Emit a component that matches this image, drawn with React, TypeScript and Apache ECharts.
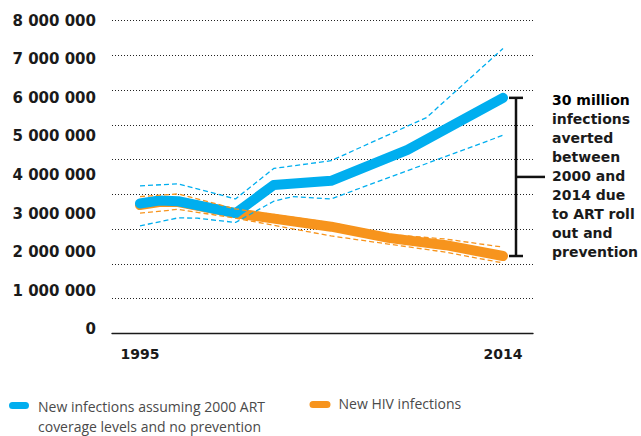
import React, { useEffect, useRef } from 'react';
import * as echarts from 'echarts';

const BLUE = '#00aeef';
const ORANGE = '#f7941d';
const INK = '#1a1a1a';

// New infections assuming 2000 ART coverage levels and no prevention
const noArtYears = [1995, 1996, 1997, 2000, 2002, 2005, 2009, 2014];
const noArtValues = [3260000, 3340000, 3320000, 3010000, 3740000, 3850000, 4650000, 6000000];
const noArtHighYears = [1995, 1997, 2000, 2002, 2005, 2010, 2014];
const noArtHighValues = [3720000, 3770000, 3380000, 4170000, 4370000, 5490000, 7280000];
const noArtLowYears = [1995, 1997, 1998, 2000, 2002, 2003, 2005, 2014];
const noArtLowValues = [2680000, 2890000, 2880000, 2770000, 3320000, 3440000, 3380000, 5030000];

// New HIV infections
const hivYears = [1995, 1996, 1997, 2000, 2005, 2008, 2011, 2014];
const hivValues = [3220000, 3300000, 3300000, 3010000, 2660000, 2370000, 2180000, 1900000];
const hivHighYears = [1995, 1997, 2000, 2005, 2008, 2011, 2014];
const hivHighValues = [3440000, 3510000, 3120000, 2760000, 2460000, 2340000, 2130000];
const hivLowYears = [1995, 1997, 2000, 2005, 2008, 2011, 2014];
const hivLowValues = [3010000, 3110000, 2880000, 2420000, 2210000, 2000000, 1720000];

const legendNoArt = 'New infections assuming 2000 ART\ncoverage levels and no prevention';
const legendHiv = 'New HIV infections';
const annotationTitle = '30 million';
const annotationBody = 'infections\naverted\nbetween\n2000 and\n2014 due\nto ART roll\nout and\nprevention';

const pairs = (xs: number[], ys: number[]) => xs.map((x, i) => [x, ys[i]]);
const fmt = (v: number) => String(v).replace(/\B(?=(\d{3})+(?!\d))/g, ' ');

export default function App() {
  const ref = useRef<HTMLDivElement>(null);
  useEffect(() => {
    const chart = echarts.init(ref.current!, null, { renderer: 'svg' });
    const mainLine = (color: string) => ({ color, width: 10, cap: 'round', join: 'round' });
    const dashLine = (color: string) => ({ color, width: 1.3, type: [5, 3] });
    chart.setOption({
      animation: false,
      backgroundColor: '#ffffff',
      grid: [
        { left: 140, right: 138, top: 20.7, bottom: 106.7 },
        { left: 112, right: 108, top: 20.7, bottom: 102.7 },
      ],
      xAxis: [
        {
          type: 'value', gridIndex: 0, min: 1995, max: 2014, interval: 19,
          axisLine: { show: false }, axisTick: { show: false }, splitLine: { show: false },
          axisLabel: { margin: 18, color: INK, fontFamily: 'DejaVu Sans', fontWeight: 'bold', fontSize: 14, formatter: (v: number) => String(v) },
        },
        {
          type: 'value', gridIndex: 1, min: 0, max: 1,
          axisLine: { show: true, lineStyle: { color: INK, width: 1.4 } },
          axisTick: { show: false }, axisLabel: { show: false }, splitLine: { show: false },
        },
      ],
      yAxis: [
        {
          type: 'value', gridIndex: 0, min: 0, max: 8000000, interval: 1000000,
          axisLine: { show: false }, axisTick: { show: false }, splitLine: { show: false },
          axisLabel: { margin: 44, color: INK, fontFamily: 'DejaVu Sans', fontWeight: 'bold', fontSize: 15, formatter: fmt },
        },
        {
          type: 'value', gridIndex: 1, min: 0, max: 9, interval: 1,
          axisLine: { show: false }, axisTick: { show: false }, axisLabel: { show: false },
          splitLine: { show: true, lineStyle: { color: '#222', width: 1, type: [1, 2] } },
        },
      ],
      series: [
        { name: legendHiv, type: 'line', symbol: 'none', data: pairs(hivYears, hivValues), lineStyle: mainLine(ORANGE), z: 3 },
        { name: legendNoArt, type: 'line', symbol: 'none', data: pairs(noArtYears, noArtValues), lineStyle: mainLine(BLUE), z: 4 },
        { name: 'HIV upper', type: 'line', symbol: 'none', data: pairs(hivHighYears, hivHighValues), lineStyle: dashLine(ORANGE), z: 5 },
        { name: 'HIV lower', type: 'line', symbol: 'none', data: pairs(hivLowYears, hivLowValues), lineStyle: dashLine(ORANGE), z: 5 },
        { name: 'No ART upper', type: 'line', symbol: 'none', data: pairs(noArtHighYears, noArtHighValues), lineStyle: dashLine(BLUE), z: 6 },
        { name: 'No ART lower', type: 'line', symbol: 'none', data: pairs(noArtLowYears, noArtLowValues), lineStyle: dashLine(BLUE), z: 6 },
      ],
    });

    const lastYear = noArtYears[noArtYears.length - 1];
    const top = chart.convertToPixel({ xAxisIndex: 0, yAxisIndex: 0 }, [lastYear, noArtValues[noArtValues.length - 1]]) as number[];
    const bot = chart.convertToPixel({ xAxisIndex: 0, yAxisIndex: 0 }, [lastYear, hivValues[hivValues.length - 1]]) as number[];
    const bx = top[0] + 13;
    const mid = (top[1] + bot[1]) / 2;
    const bl = { stroke: '#111', lineWidth: 2.5 };
    chart.setOption({
      graphic: [
        { type: 'line', shape: { x1: bx, y1: top[1], x2: bx, y2: bot[1] }, style: bl },
        { type: 'line', shape: { x1: bx - 7, y1: top[1], x2: bx + 7, y2: top[1] }, style: bl },
        { type: 'line', shape: { x1: bx - 7, y1: bot[1], x2: bx + 7, y2: bot[1] }, style: bl },
        { type: 'line', shape: { x1: bx, y1: mid, x2: bx + 29, y2: mid }, style: bl },
        {
          type: 'text', x: 552, y: 100,
          style: { text: annotationTitle, fill: '#000', font: 'bold 14px "DejaVu Sans"', textVerticalAlign: 'middle' },
        },
        {
          type: 'text', x: 552, y: 109.8,
          style: { text: annotationBody, fill: INK, font: 'bold 14px "DejaVu Sans"', lineHeight: 19, textVerticalAlign: 'top' },
        },
        { type: 'rect', shape: { x: 9, y: 402, width: 20, height: 7, r: 3.5 }, style: { fill: BLUE } },
        {
          type: 'text', x: 38, y: 396.7,
          style: { text: legendNoArt, fill: '#4a4a4a', font: '14px "Open Sans"', lineHeight: 20, textVerticalAlign: 'top' },
        },
        { type: 'rect', shape: { x: 309.5, y: 401, width: 21, height: 7, r: 3.5 }, style: { fill: ORANGE } },
        {
          type: 'text', x: 338.5, y: 393.3,
          style: { text: legendHiv, fill: '#4a4a4a', font: '14px "Open Sans"', lineHeight: 20, textVerticalAlign: 'top' },
        },
      ],
    });
    return () => chart.dispose();
  }, []);
  return <div ref={ref} style={{ position: 'fixed', left: 0, top: 0, width: 641, height: 436 }} />;
}
